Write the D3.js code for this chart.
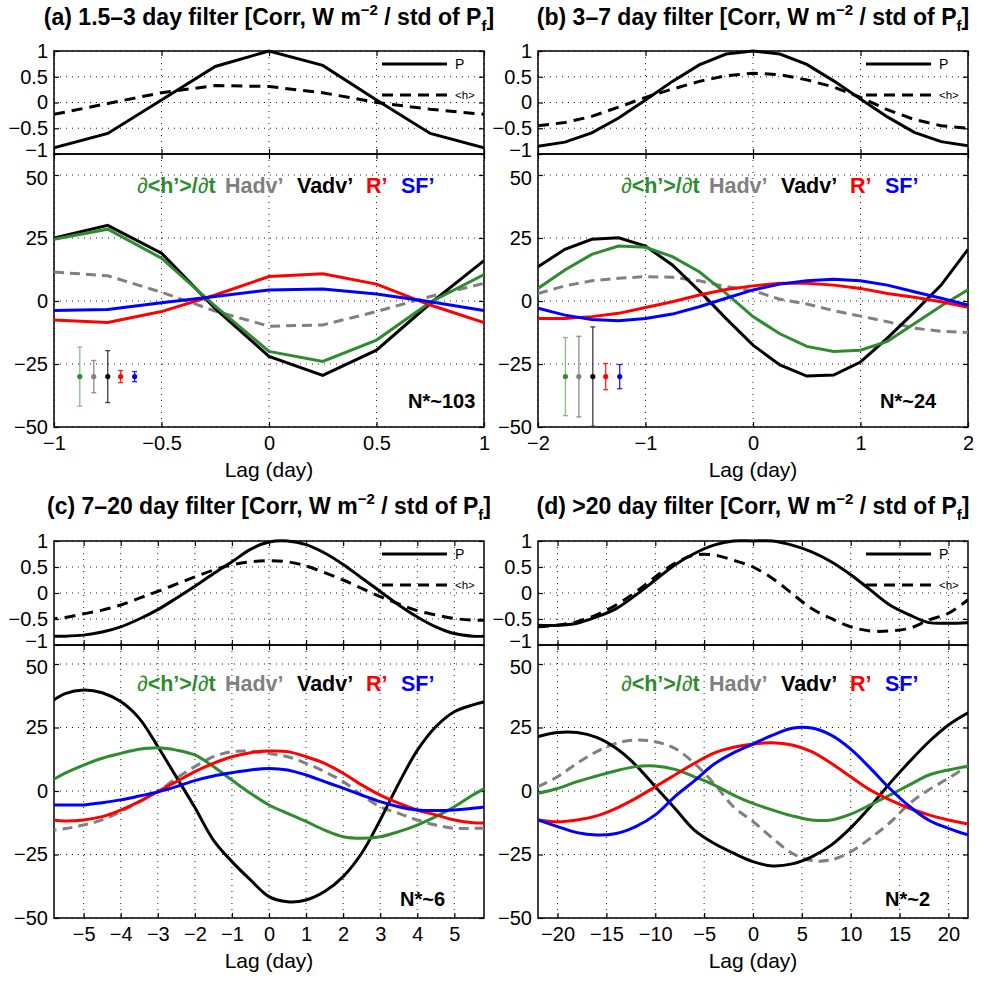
<!DOCTYPE html>
<html><head><meta charset="utf-8">
<script src="https://cdn.jsdelivr.net/npm/d3@7"></script>
<style>body{margin:0;background:#fff} svg{display:block} text{font-family:"Liberation Sans",Arial,Helvetica,sans-serif}</style>
</head><body><svg id="c" width="985" height="981"></svg>
<script>
// ---------------- DATA ----------------
const titles = [
  ["(a) 1.5\u20133 day filter [Corr, W m", "\u22122", " / std of P", "f", "]"],
  ["(b) 3\u20137 day filter [Corr, W m", "\u22122", " / std of P", "f", "]"],
  ["(c) 7\u201320 day filter [Corr, W m", "\u22122", " / std of P", "f", "]"],
  ["(d) >20 day filter [Corr, W m", "\u22122", " / std of P", "f", "]"]
];
const nStar = ["N*~103", "N*~24", "N*~6", "N*~2"];
const legendTop = ["P", "<h>"];
const legendLow = ["\u2202<h\u2019>/\u2202t", "Hadv\u2019", "Vadv\u2019", "R\u2019", "SF\u2019"];
const seriesColors = ["#2e8b2e", "#808080", "#000000", "#ff0000", "#0000ff"];
const xLabel = "Lag (day)";

// (a) 1.5-3 day
const lagsA = [-1, -0.75, -0.5, -0.25, 0, 0.25, 0.5, 0.75, 1];
const PA    = [-0.88, -0.6, 0.05, 0.7, 1.0, 0.72, 0.05, -0.6, -0.88];
const hA    = [-0.23, -0.02, 0.19, 0.33, 0.31, 0.19, 0.0, -0.13, -0.23];
const dhA   = [24.5, 28.5, 17, -2, -20, -24, -15.5, -0.5, 10.5];
const hadvA = [11.5, 10, 3.5, -4, -10, -9.5, -4.2, 1.8, 7];
const vadvA = [25, 30, 19, -3, -22, -29.5, -19.5, -1, 16];
const rA    = [-7.5, -8.5, -4.2, 2.4, 9.7, 10.8, 6.7, -1.6, -8.6];
const sfA   = [-3.8, -3.4, -0.7, 1.8, 4.4, 4.8, 2.8, -0.3, -3.8];
const errXA    = [-0.88, -0.815, -0.75, -0.69, -0.625];
const errMidA  = [-30, -30, -30, -30, -30];
const errHalfA = [11.7, 6.4, 10.3, 2.4, 2.0];

// (b) 3-7 day
const lagsB = [-2, -1.75, -1.5, -1.25, -1, -0.75, -0.5, -0.25, 0, 0.25, 0.5, 0.75, 1, 1.25, 1.5, 1.75, 2];
const PB    = [-0.85, -0.77, -0.59, -0.3, 0.05, 0.41, 0.73, 0.94, 1.0, 0.94, 0.74, 0.42, 0.07, -0.28, -0.58, -0.76, -0.84];
const hB    = [-0.45, -0.39, -0.27, -0.09, 0.1, 0.26, 0.41, 0.52, 0.57, 0.54, 0.44, 0.3, 0.1, -0.14, -0.33, -0.45, -0.5];
const dhB   = [5, 12.3, 18.5, 21.8, 21.3, 17.6, 11.6, 3, -6.2, -13, -18, -20, -19.5, -16, -9, -2, 4.5];
const hadvB = [3, 6, 8, 9, 9.7, 9.4, 8, 5.7, 4.1, 0.7, -1.2, -3.8, -6, -8.2, -10.8, -12, -12.5];
const vadvB = [13.6, 20.5, 24.5, 25.1, 21.8, 14.3, 4, -7, -17.5, -25.4, -29.8, -29.4, -24.2, -14.7, -4.4, 6.3, 20.5];
const rB    = [-6.9, -6.9, -6.2, -4.9, -2.6, -0.3, 2.4, 4.6, 6, 7, 7, 6.3, 5, 3, 1.5, -0.3, -2.5];
const sfB   = [-2.9, -5.6, -7.3, -7.8, -6.9, -5.2, -2.3, 1.1, 4.4, 6.7, 8, 8.6, 8, 6.3, 3.7, 1.1, -1.6];
const errXB    = [-1.745, -1.62, -1.49, -1.37, -1.24];
const errMidB  = [-30, -30, -30, -30, -30];
const errHalfB = [15.5, 16, 19.7, 5.2, 4.8];

// (c) 7-20 day
const lagsC = [-6, -5.5, -5, -4.5, -4, -3.5, -3, -2.5, -2, -1.5, -1, -0.5, 0, 0.5, 1, 1.5, 2, 2.5, 3, 3.5, 4, 4.5, 5, 5.5, 6];
const PC    = [-0.83, -0.83, -0.81, -0.75, -0.65, -0.5, -0.32, -0.1, 0.13, 0.37, 0.6, 0.84, 0.98, 1.0, 0.93, 0.77, 0.55, 0.29, 0.03, -0.23, -0.46, -0.65, -0.78, -0.83, -0.83];
const hC    = [-0.5, -0.47, -0.4, -0.33, -0.23, -0.1, 0.03, 0.17, 0.31, 0.44, 0.54, 0.6, 0.62, 0.6, 0.52, 0.39, 0.25, 0.09, -0.07, -0.21, -0.34, -0.42, -0.49, -0.52, -0.52];
const dhC   = [3, 7, 10.2, 12.9, 14.8, 16.4, 17, 16.1, 14.2, 9.6, 4.3, -0.9, -5.5, -8.8, -12, -15.4, -18, -18.6, -18, -16, -13.4, -10.1, -6.2, -1.6, 2.5];
const hadvC = [-15.6, -14.8, -13.4, -11.4, -8.1, -4.2, -0.2, 5, 9.6, 13.5, 15.5, 15.7, 14.8, 13.5, 10.9, 7.6, 3.7, -1.6, -6.2, -8.8, -11.4, -13.4, -14.7, -14.7, -14.7];
const vadvC = [34, 38.3, 39.8, 38.7, 35.2, 28.6, 17.5, 5.5, -6.5, -19.3, -27.8, -35, -41.6, -43.6, -42.9, -39.6, -33.7, -24.5, -11.4, 3, 16, 25.3, 31.2, 33.9, 35.8];
const rC    = [-11.2, -11.8, -11.4, -10.1, -7.5, -4.2, -0.2, 3.7, 7.6, 10.9, 13.5, 15.1, 15.7, 15.5, 13.5, 10.9, 7, 2.4, -1.6, -4.8, -7.5, -9.4, -11.4, -12.5, -12.5];
const sfC   = [-5.5, -5.5, -5.5, -4.6, -3.5, -2, -0.4, 1.7, 4.1, 5.9, 7.2, 8.3, 8.9, 8.3, 6.3, 3.7, 1.1, -1.6, -4.2, -6.2, -7.5, -7.7, -7.5, -6.8, -6];

// (d) >20 day
const lagsD = [-22, -20, -18, -16, -14, -12, -10, -8, -6, -4, -2, 0, 2, 4, 6, 8, 10, 12, 14, 16, 18, 20, 22];
const PD    = [-0.62, -0.62, -0.58, -0.46, -0.3, -0.04, 0.25, 0.54, 0.76, 0.92, 1.0, 1.0, 1.0, 0.92, 0.79, 0.6, 0.35, 0.06, -0.23, -0.42, -0.57, -0.58, -0.57];
const hD    = [-0.65, -0.62, -0.55, -0.42, -0.23, 0.02, 0.31, 0.57, 0.73, 0.73, 0.63, 0.5, 0.28, -0.01, -0.3, -0.49, -0.65, -0.73, -0.73, -0.68, -0.52, -0.39, -0.13];
const dhD   = [-0.9, 1.0, 3.7, 5.9, 8, 9.6, 9.8, 8.5, 5.6, 2.4, -1.6, -4.9, -7.5, -9.8, -11.4, -11.4, -9.1, -5.5, -1.6, 2.4, 6.3, 8.3, 9.8];
const hadvD = [1.7, 5.6, 10.9, 15.5, 18.8, 20.1, 19.4, 16.8, 10.9, 3, -6.2, -12, -18.6, -24.5, -27.4, -27.1, -23.9, -18.6, -12.5, -5, 0.5, 5, 10];
const vadvD = [21.4, 23, 23, 21.1, 16.8, 10.2, 1.7, -6.8, -15.4, -20.6, -24.5, -27.8, -29.5, -28.7, -25.9, -21.3, -14.5, -6.2, 3, 11.5, 19.4, 26, 30.8];
const rD    = [-11.4, -12.1, -11.4, -9.8, -6.8, -2.9, 1.7, 6.3, 10.9, 14.9, 17.2, 18.5, 19, 18.1, 15.5, 10.9, 5.6, 0.4, -3.5, -6.8, -9.4, -11.4, -13];
const sfD   = [-11.4, -14, -16.4, -17.3, -16.7, -14, -9.4, -2.2, 4, 10.5, 15, 18.5, 22, 24.7, 24.8, 22, 16.5, 9, 1, -6, -11.5, -14.7, -17.3];

const xDomains = [[-1, 1], [-2, 2], [-5.8, 5.8], [-22, 22]];
const xTicks = [[-1, -0.5, 0, 0.5, 1], [-2, -1, 0, 1, 2],
  [-5, -4, -3, -2, -1, 0, 1, 2, 3, 4, 5], [-20, -15, -10, -5, 0, 5, 10, 15, 20]];
const yTopTicks = [-1, -0.5, 0, 0.5, 1];
const yLowTicks = [-50, -25, 0, 25, 50];

// ---------------- LAYOUT ----------------
const svg = d3.select("#c");
const layouts = [
  {x0: 54,  x1: 484, tt: 51,  tb: 154, lb: 427, y50: 175, titleY: 25,  labY: 477, legY: 193, nX: 408, nY: 408, smooth: false},
  {x0: 538, x1: 968, tt: 51,  tb: 154, lb: 427, y50: 175, titleY: 25,  labY: 477, legY: 193, nX: 880, nY: 408, smooth: false},
  {x0: 54,  x1: 484, tt: 541, tb: 645, lb: 918, y50: 664, titleY: 514, labY: 968, legY: 691, nX: 400, nY: 906, smooth: true},
  {x0: 538, x1: 968, tt: 541, tb: 645, lb: 918, y50: 664, titleY: 514, labY: 968, legY: 691, nX: 885, nY: 906, smooth: true}
];
const panelData = [
  {lags: lagsA, top: [PA, hA], low: [dhA, hadvA, vadvA, rA, sfA], err: [errXA, errMidA, errHalfA]},
  {lags: lagsB, top: [PB, hB], low: [dhB, hadvB, vadvB, rB, sfB], err: [errXB, errMidB, errHalfB]},
  {lags: lagsC, top: [PC, hC], low: [dhC, hadvC, vadvC, rC, sfC], err: null},
  {lags: lagsD, top: [PD, hD], low: [dhD, hadvD, vadvD, rD, sfD], err: null}
];
const fmt = v => (v < 0 ? "\u2212" : "") + Math.abs(v);
const errColors = ["#82c082", "#8c8c8c", "#3c3c3c", "#ff2020", "#2020ff"];

panelData.forEach((pd, i) => {
  const L = layouts[i];
  const g = svg.append("g");
  const x = d3.scaleLinear().domain(xDomains[i]).range([L.x0, L.x1]);
  const yT = d3.scaleLinear().domain([-1, 1]).range([L.tb, L.tt]);
  const yL = d3.scaleLinear().domain([-50, 50]).range([L.lb, L.y50]);

  const defs = svg.append("defs");
  defs.append("clipPath").attr("id", "ct" + i).append("rect")
    .attr("x", L.x0).attr("y", L.tt - 3).attr("width", L.x1 - L.x0).attr("height", L.tb - L.tt + 3);
  defs.append("clipPath").attr("id", "cl" + i).append("rect")
    .attr("x", L.x0).attr("y", L.tb).attr("width", L.x1 - L.x0).attr("height", L.lb - L.tb);

  // grids
  const grid = g.append("g").attr("stroke", "#000").attr("stroke-width", 0.9).attr("stroke-dasharray", "1,5");
  xTicks[i].forEach(t => {
    grid.append("line").attr("x1", x(t)).attr("x2", x(t)).attr("y1", L.tt).attr("y2", L.tb);
    grid.append("line").attr("x1", x(t)).attr("x2", x(t)).attr("y1", L.tb).attr("y2", L.lb);
  });
  yTopTicks.forEach(t => grid.append("line").attr("x1", L.x0).attr("x2", L.x1).attr("y1", yT(t)).attr("y2", yT(t)));
  yLowTicks.forEach(t => grid.append("line").attr("x1", L.x0).attr("x2", L.x1).attr("y1", yL(t)).attr("y2", yL(t)));

  // axes (ticks inward)
  const axStyle = s => { s.select(".domain").remove(); s.selectAll("text").attr("font-size", 20).attr("font-family", "Liberation Sans, Arial, sans-serif").attr("fill", "#000"); s.selectAll("line").attr("stroke-width", 1.2); };
  const topLeft = g.append("g").attr("transform", `translate(${L.x0},0)`)
    .call(d3.axisLeft(yT).tickValues(yTopTicks).tickSizeInner(-5).tickSizeOuter(0).tickPadding(6).tickFormat(fmt)).call(axStyle);
  topLeft.selectAll(".tick").filter(d => d === -1).select("text").attr("dy", "0.1em");
  const lowLeft = g.append("g").attr("transform", `translate(${L.x0},0)`)
    .call(d3.axisLeft(yL).tickValues(yLowTicks).tickSizeInner(-5).tickSizeOuter(0).tickPadding(6).tickFormat(fmt)).call(axStyle);
  lowLeft.selectAll(".tick").filter(d => d === 50).select("text").attr("dy", "0.45em");
  g.append("g").attr("transform", `translate(${L.x1},0)`)
    .call(d3.axisRight(yT).tickValues(yTopTicks).tickSizeInner(-5).tickSizeOuter(0).tickFormat("")).call(axStyle);
  g.append("g").attr("transform", `translate(${L.x1},0)`)
    .call(d3.axisRight(yL).tickValues(yLowTicks).tickSizeInner(-5).tickSizeOuter(0).tickFormat("")).call(axStyle);
  g.append("g").attr("transform", `translate(0,${L.lb})`)
    .call(d3.axisBottom(x).tickValues(xTicks[i]).tickSizeInner(-5).tickSizeOuter(0).tickPadding(9).tickFormat(fmt)).call(axStyle);
  [L.tt, L.tb].forEach(yy => {
    g.append("g").attr("transform", `translate(0,${yy})`)
      .call(d3.axisTop(x).tickValues(xTicks[i]).tickSizeInner(-5).tickSizeOuter(0).tickFormat("")).call(axStyle);
  });
  g.append("g").attr("transform", `translate(0,${L.tb})`)
    .call(d3.axisBottom(x).tickValues(xTicks[i]).tickSizeInner(-5).tickSizeOuter(0).tickFormat("")).call(axStyle);

  // boxes
  g.append("rect").attr("x", L.x0).attr("y", L.tt).attr("width", L.x1 - L.x0).attr("height", L.tb - L.tt)
    .attr("fill", "none").attr("stroke", "#000").attr("stroke-width", 1.5);
  g.append("rect").attr("x", L.x0).attr("y", L.tb).attr("width", L.x1 - L.x0).attr("height", L.lb - L.tb)
    .attr("fill", "none").attr("stroke", "#000").attr("stroke-width", 1.5);

  const curve = L.smooth ? d3.curveCatmullRom.alpha(0.5) : d3.curveLinear;

  // top lines
  const lineT = vals => d3.line().curve(curve).x((d, k) => x(pd.lags[k])).y(d => yT(d))(vals);
  const gt = g.append("g").attr("clip-path", `url(#ct${i})`);
  gt.append("path").attr("d", lineT(pd.top[0])).attr("fill", "none").attr("stroke", "#000").attr("stroke-width", 3);
  gt.append("path").attr("d", lineT(pd.top[1])).attr("fill", "none").attr("stroke", "#000").attr("stroke-width", 3).attr("stroke-dasharray", "11,7");

  // top legend
  const lx0 = L.x0 + 328, lx1 = L.x0 + 393;
  g.append("line").attr("x1", lx0).attr("x2", lx1).attr("y1", L.tt + 13).attr("y2", L.tt + 13).attr("stroke", "#000").attr("stroke-width", 3);
  g.append("line").attr("x1", lx0).attr("x2", lx1).attr("y1", L.tt + 44).attr("y2", L.tt + 44).attr("stroke", "#000").attr("stroke-width", 3).attr("stroke-dasharray", "11,7");
  g.append("text").attr("x", lx1 + 8).attr("y", L.tt + 18).attr("font-size", 14).text(legendTop[0]);
  g.append("text").attr("x", lx1 + 8).attr("y", L.tt + 48).attr("font-size", 11.5).text(legendTop[1]);

  // lower lines
  const lineL = vals => d3.line().curve(curve).x((d, k) => x(pd.lags[k])).y(d => yL(d))(vals);
  const gl = g.append("g").attr("clip-path", `url(#cl${i})`);
  const order = [1, 2, 0, 3, 4];
  order.forEach(s => {
    const p = gl.append("path").attr("d", lineL(pd.low[s])).attr("fill", "none")
      .attr("stroke", seriesColors[s]).attr("stroke-width", 3);
    if (s === 1) p.attr("stroke-dasharray", "10,6");
  });

  // error bars
  if (pd.err) {
    const [ex, em, eh] = pd.err;
    ex.forEach((xv, k) => {
      const cx = x(xv);
      const eg = g.append("g").attr("stroke", errColors[k]).attr("stroke-width", 1.3);
      eg.append("line").attr("x1", cx).attr("x2", cx).attr("y1", yL(em[k] + eh[k])).attr("y2", yL(em[k] - eh[k]));
      eg.append("line").attr("x1", cx - 2.5).attr("x2", cx + 2.5).attr("y1", yL(em[k] + eh[k])).attr("y2", yL(em[k] + eh[k]));
      eg.append("line").attr("x1", cx - 2.5).attr("x2", cx + 2.5).attr("y1", yL(em[k] - eh[k])).attr("y2", yL(em[k] - eh[k]));
      g.append("circle").attr("cx", cx).attr("cy", yL(em[k])).attr("r", 2.6).attr("fill", seriesColors[k]);
    });
  }

  // lower legend
  const legOff = [83, 171, 243, 312, 347];
  legendLow.forEach((t, k) => {
    const tx = g.append("text").attr("x", L.x0 + legOff[k]).attr("y", L.legY)
      .attr("font-size", 21.5).attr("font-weight", "bold").attr("fill", seriesColors[k]);
    if (k === 0) {
      tx.append("tspan").attr("font-weight", "normal").text("\u2202");
      tx.append("tspan").text("<h\u2019>/");
      tx.append("tspan").attr("font-weight", "normal").text("\u2202");
      tx.append("tspan").text("t");
    } else tx.text(t);
  });

  // N*
  g.append("text").attr("x", L.nX).attr("y", L.nY).attr("font-size", 20).attr("font-weight", "bold").text(nStar[i]);

  // x label
  g.append("text").attr("x", (L.x0 + L.x1) / 2).attr("y", L.labY).attr("text-anchor", "middle").attr("font-size", 21).text(xLabel);

  // title
  const tt = titles[i];
  const title = g.append("text").attr("x", (L.x0 + L.x1) / 2).attr("y", L.titleY).attr("text-anchor", "middle")
    .attr("font-size", 23).attr("font-weight", "bold");
  title.append("tspan").text(tt[0]);
  title.append("tspan").attr("font-size", 15).attr("dy", -10).text(tt[1]);
  title.append("tspan").attr("dy", 10).text(tt[2]);
  title.append("tspan").attr("font-size", 15).attr("dy", 6).text(tt[3]);
  title.append("tspan").attr("dy", -6).text(tt[4]);
});
</script></body></html>
